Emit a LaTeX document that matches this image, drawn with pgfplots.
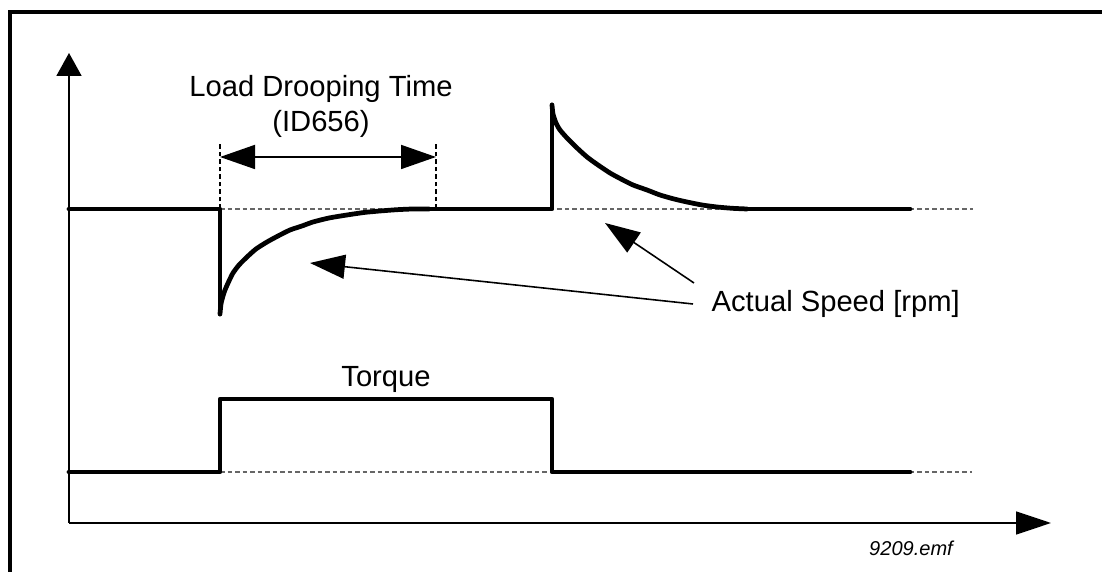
\documentclass[border=0pt]{standalone}
\usepackage{fontspec}
\setmainfont{Liberation Sans}
\usepackage{pgfplots}
\pgfplotsset{compat=1.18}
\usetikzlibrary{arrows.meta}

\begin{document}
\begin{tikzpicture}
\begin{axis}[
    scale only axis, width=11.02cm, height=5.72cm,
    xmin=-69, xmax=1033, ymin=-49, ymax=523,
    hide axis, clip=false,
]
% bounding box corners
\coordinate (SW) at (axis cs:-69,-49);
\coordinate (NE) at (axis cs:1033,523);

% frame (left and top edges)
\draw[line width=0.95pt] (axis cs:-59,-80) -- (axis cs:-59,511) -- (axis cs:1060,511);

% axes
\draw[line width=0.5pt, -{Triangle[length=2.3mm, width=2.5mm]}] (axis cs:0,0) -- (axis cs:0,470);
\draw[line width=0.5pt, -{Triangle[length=3.5mm, width=2.3mm]}] (axis cs:0,0) -- (axis cs:982,0);

% dashed reference lines
\addplot[gray!80!black, line width=0.3pt, dash pattern=on 0.45mm off 0.3mm] coordinates {(151,314) (904,314)};
\addplot[gray!80!black, line width=0.3pt, dash pattern=on 0.45mm off 0.3mm] coordinates {(151,51) (903,51)};
\addplot[black, line width=0.3pt, dash pattern=on 0.45mm off 0.3mm] coordinates {(151,314) (151,380)};
\addplot[black, line width=0.3pt, dash pattern=on 0.45mm off 0.3mm] coordinates {(367,314) (367,380)};

% drooping time arrow
\draw[line width=0.5pt, {Triangle[length=3.5mm, width=2.4mm]}-{Triangle[length=3.5mm, width=2.4mm]}]
    (axis cs:151,366) -- (axis cs:367,366);

% actual speed
\addplot[black, line width=1.35pt, line cap=round, line join=round] coordinates {
    (0,314) (151,314) (151,209)
};
\addplot[black, line width=1.35pt, line cap=round, smooth, tension=0.4] coordinates {
    (151,209) (152,219) (154,227) (156,233) (160,242) (164,250) (170,258)
    (178,266) (187,274) (198,281) (209,287) (221,293) (233,297) (244,301)
    (260,305) (278,308) (295,310.5) (311,312) (328,313.3) (344,314) (360,314)
};
\addplot[black, line width=1.35pt, line cap=round, line join=round] coordinates {
    (344,314) (483,314) (483,418)
};
\addplot[black, line width=1.35pt, line cap=round, smooth, tension=0.4] coordinates {
    (483,418) (484,409) (487,400) (491,393) (498,385) (507,376) (518,366)
    (529,358) (541,350) (552,344) (564,338) (578,333) (591,328) (605,324)
    (618,321) (633,318) (648,316) (663,314.7) (678,314)
};
\addplot[black, line width=1.35pt, line cap=round] coordinates {
    (678,314) (841,314)
};

% torque
\addplot[black, line width=1.35pt, line cap=round, line join=round] coordinates {
    (0,51) (151,51) (151,124) (483,124) (483,51) (841,51)
};

% pointer arrows
\draw[line width=0.45pt, -{Triangle[length=3.5mm, width=2.4mm]}] (axis cs:624,219) -- (axis cs:241,260);
\draw[line width=0.45pt, -{Triangle[length=3.5mm, width=2.4mm]}] (axis cs:625,240) -- (axis cs:536,300);

% labels
\node[anchor=base, inner sep=0pt, font=\fontsize{8.3}{10}\selectfont] at (axis cs:252,426) {Load Drooping Time};
\node[anchor=base, inner sep=0pt, font=\fontsize{8.3}{10}\selectfont] at (axis cs:252,391) {(ID656)};
\node[anchor=base, inner sep=0pt, font=\fontsize{8.3}{10}\selectfont] at (axis cs:317,136) {Torque};
\node[anchor=base west, inner sep=0pt, font=\fontsize{8.3}{10}\selectfont] at (axis cs:642,211) {Actual Speed [rpm]};
\node[anchor=base, inner sep=0pt, font=\fontsize{5.7}{7}\selectfont\itshape] at (axis cs:842,-33) {9209.emf};
\end{axis}
\pgfresetboundingbox
\path[use as bounding box] (SW) rectangle (NE);
\end{tikzpicture}
\end{document}
